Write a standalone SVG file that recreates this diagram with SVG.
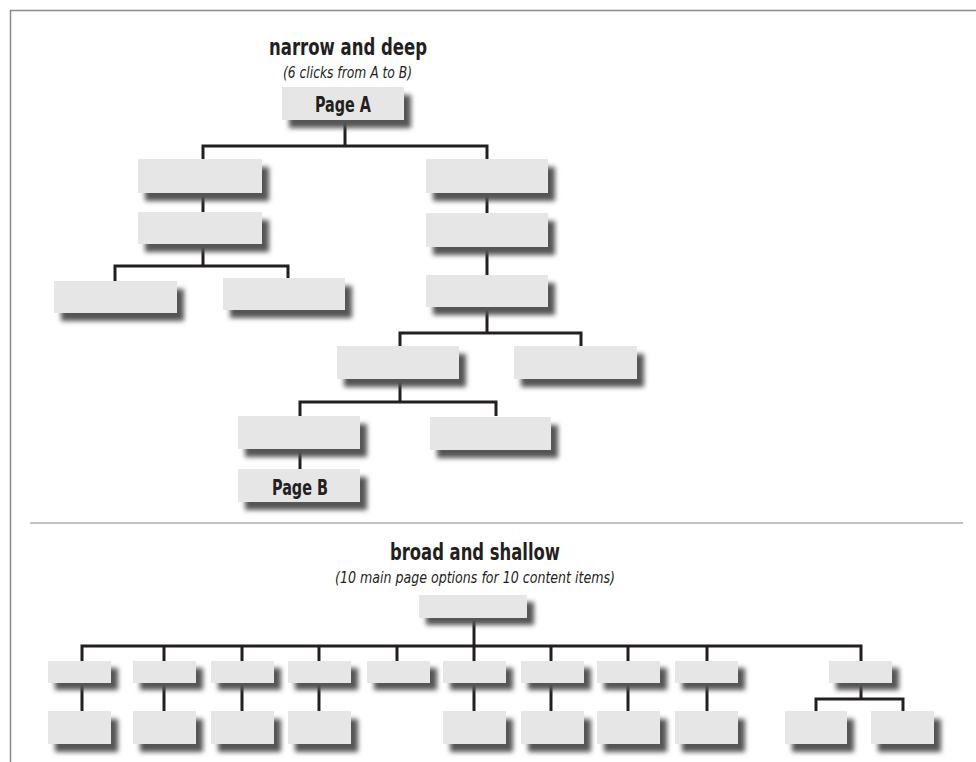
<svg xmlns="http://www.w3.org/2000/svg" width="976" height="762" viewBox="0 0 976 762">
  <style>
    .box { fill: #e6e6e6; }
    .sh { fill: #555555; filter: url(#blur); }
    .wire { fill: none; stroke: #231f20; stroke-width: 3; stroke-linejoin: miter; }
    .title { font-family: 'Liberation Sans Narrow', 'DejaVu Sans Condensed', 'Liberation Sans', sans-serif; font-weight: bold; font-size: 23px; fill: #231f20; }
    .sub { font-family: 'Liberation Sans Narrow', 'DejaVu Sans Condensed', 'Liberation Sans', sans-serif; font-style: italic; font-size: 16px; fill: #231f20; }
    .lbl { font-family: 'Liberation Sans Narrow', 'DejaVu Sans Condensed', 'Liberation Sans', sans-serif; font-weight: bold; font-size: 21px; fill: #231f20; }
  </style>
  <defs>
    <filter id="blur" x="-20%" y="-50%" width="140%" height="200%">
      <feGaussianBlur stdDeviation="2.6"/>
    </filter>
  </defs>

  <rect width="976" height="762" fill="#ffffff"/>

  <!-- frame and section divider -->
  <g id="frame">
    <path d="M10.5,762 V10.5 H976" fill="none" stroke="#8a8a8a" stroke-width="1.5"/>
    <line x1="30" y1="523" x2="963" y2="523" stroke="#b0b0b0" stroke-width="1.5"/>
  </g>

  <!-- headings -->
  <g id="headings">
    <text class="title" x="269" y="55" textLength="158" lengthAdjust="spacingAndGlyphs">narrow and deep</text>
    <text class="sub" x="283" y="78" textLength="129" lengthAdjust="spacingAndGlyphs">(6 clicks from A to B)</text>
    <text class="title" x="390" y="560" textLength="170" lengthAdjust="spacingAndGlyphs">broad and shallow</text>
    <text class="sub" x="335" y="583" textLength="280" lengthAdjust="spacingAndGlyphs">(10 main page options for 10 content items)</text>
  </g>

  <!-- connectors -->
  <g id="connectors" class="wire">
    <!-- narrow and deep -->
    <path d="M345,120 V146"/>
    <path d="M203,159 V146 H487 V159"/>
    <path d="M203,193 V212"/>
    <path d="M203,244 V266"/>
    <path d="M115,281 V266 H288 V278"/>
    <path d="M487,193 V213"/>
    <path d="M487,247 V275"/>
    <path d="M487,307 V333"/>
    <path d="M400,346 V333 H581 V346"/>
    <path d="M400,379 V402"/>
    <path d="M300,416 V402 H496 V416"/>
    <path d="M300,449 V469"/>
    <!-- broad and shallow -->
    <path d="M474,618 V646"/>
    <path d="M82,661 V646 H861 V661"/>
    <path d="M164,646 V661 M242,646 V661 M319,646 V661 M397,646 V661 M474,646 V661 M551,646 V661 M628,646 V661 M707,646 V661"/>
    <path d="M82,683 V711 M164,683 V711 M242,683 V711 M319,683 V711 M474,683 V711 M551,683 V711 M628,683 V711 M707,683 V711"/>
    <path d="M861,683 V699"/>
    <path d="M816,711 V699 H903 V711"/>
  </g>

  <!-- narrow and deep nodes -->
  <g id="pageA"><rect class="sh" x="289" y="95" width="122" height="33"/><rect class="box" x="282" y="87" width="122" height="33"/><text class="lbl" x="315" y="112" textLength="56" lengthAdjust="spacingAndGlyphs">Page A</text></g>
  <g id="d1-left"><rect class="sh" x="145" y="167" width="124" height="34"/><rect class="box" x="138" y="159" width="124" height="34"/></g>
  <g id="d2-left"><rect class="sh" x="145" y="220" width="124" height="32"/><rect class="box" x="138" y="212" width="124" height="32"/></g>
  <g id="d3-left-a"><rect class="sh" x="61" y="289" width="123" height="32"/><rect class="box" x="54" y="281" width="123" height="32"/></g>
  <g id="d3-left-b"><rect class="sh" x="230" y="286" width="122" height="32"/><rect class="box" x="223" y="278" width="122" height="32"/></g>
  <g id="d1-right"><rect class="sh" x="433" y="167" width="122" height="34"/><rect class="box" x="426" y="159" width="122" height="34"/></g>
  <g id="d2-right"><rect class="sh" x="433" y="221" width="122" height="34"/><rect class="box" x="426" y="213" width="122" height="34"/></g>
  <g id="d3-right"><rect class="sh" x="433" y="283" width="122" height="32"/><rect class="box" x="426" y="275" width="122" height="32"/></g>
  <g id="d4-a"><rect class="sh" x="344" y="354" width="122" height="33"/><rect class="box" x="337" y="346" width="122" height="33"/></g>
  <g id="d4-b"><rect class="sh" x="521" y="354" width="123" height="33"/><rect class="box" x="514" y="346" width="123" height="33"/></g>
  <g id="d5-a"><rect class="sh" x="245" y="424" width="122" height="33"/><rect class="box" x="238" y="416" width="122" height="33"/></g>
  <g id="d5-b"><rect class="sh" x="437" y="425" width="121" height="33"/><rect class="box" x="430" y="417" width="121" height="33"/></g>
  <g id="pageB"><rect class="sh" x="245" y="477" width="122" height="33"/><rect class="box" x="238" y="469" width="122" height="33"/><text class="lbl" x="272" y="495" textLength="56" lengthAdjust="spacingAndGlyphs">Page B</text></g>

  <!-- broad and shallow nodes -->
  <g id="home"><rect class="sh" x="426" y="602" width="108" height="23"/><rect class="box" x="419" y="595" width="108" height="23"/></g>

  <g id="opt1"><rect class="sh" x="55" y="668" width="63" height="22"/><rect class="box" x="48" y="661" width="63" height="22"/></g>
  <g id="opt2"><rect class="sh" x="140" y="668" width="63" height="22"/><rect class="box" x="133" y="661" width="63" height="22"/></g>
  <g id="opt3"><rect class="sh" x="218" y="668" width="63" height="22"/><rect class="box" x="211" y="661" width="63" height="22"/></g>
  <g id="opt4"><rect class="sh" x="295" y="668" width="63" height="22"/><rect class="box" x="288" y="661" width="63" height="22"/></g>
  <g id="opt5"><rect class="sh" x="374" y="668" width="63" height="22"/><rect class="box" x="367" y="661" width="63" height="22"/></g>
  <g id="opt6"><rect class="sh" x="450" y="668" width="63" height="22"/><rect class="box" x="443" y="661" width="63" height="22"/></g>
  <g id="opt7"><rect class="sh" x="528" y="668" width="63" height="22"/><rect class="box" x="521" y="661" width="63" height="22"/></g>
  <g id="opt8"><rect class="sh" x="604" y="668" width="63" height="22"/><rect class="box" x="597" y="661" width="63" height="22"/></g>
  <g id="opt9"><rect class="sh" x="682" y="668" width="63" height="22"/><rect class="box" x="675" y="661" width="63" height="22"/></g>
  <g id="opt10"><rect class="sh" x="836" y="668" width="63" height="22"/><rect class="box" x="829" y="661" width="63" height="22"/></g>

  <g id="item1"><rect class="sh" x="55" y="719" width="63" height="33"/><rect class="box" x="48" y="711" width="63" height="33"/></g>
  <g id="item2"><rect class="sh" x="140" y="719" width="63" height="33"/><rect class="box" x="133" y="711" width="63" height="33"/></g>
  <g id="item3"><rect class="sh" x="218" y="719" width="63" height="33"/><rect class="box" x="211" y="711" width="63" height="33"/></g>
  <g id="item4"><rect class="sh" x="295" y="719" width="63" height="33"/><rect class="box" x="288" y="711" width="63" height="33"/></g>
  <g id="item6"><rect class="sh" x="450" y="719" width="63" height="33"/><rect class="box" x="443" y="711" width="63" height="33"/></g>
  <g id="item7"><rect class="sh" x="528" y="719" width="63" height="33"/><rect class="box" x="521" y="711" width="63" height="33"/></g>
  <g id="item8"><rect class="sh" x="604" y="719" width="63" height="33"/><rect class="box" x="597" y="711" width="63" height="33"/></g>
  <g id="item9"><rect class="sh" x="682" y="719" width="63" height="33"/><rect class="box" x="675" y="711" width="63" height="33"/></g>
  <g id="item10a"><rect class="sh" x="792" y="719" width="62" height="33"/><rect class="box" x="785" y="711" width="62" height="33"/></g>
  <g id="item10b"><rect class="sh" x="878" y="719" width="63" height="33"/><rect class="box" x="871" y="711" width="63" height="33"/></g>
</svg>
